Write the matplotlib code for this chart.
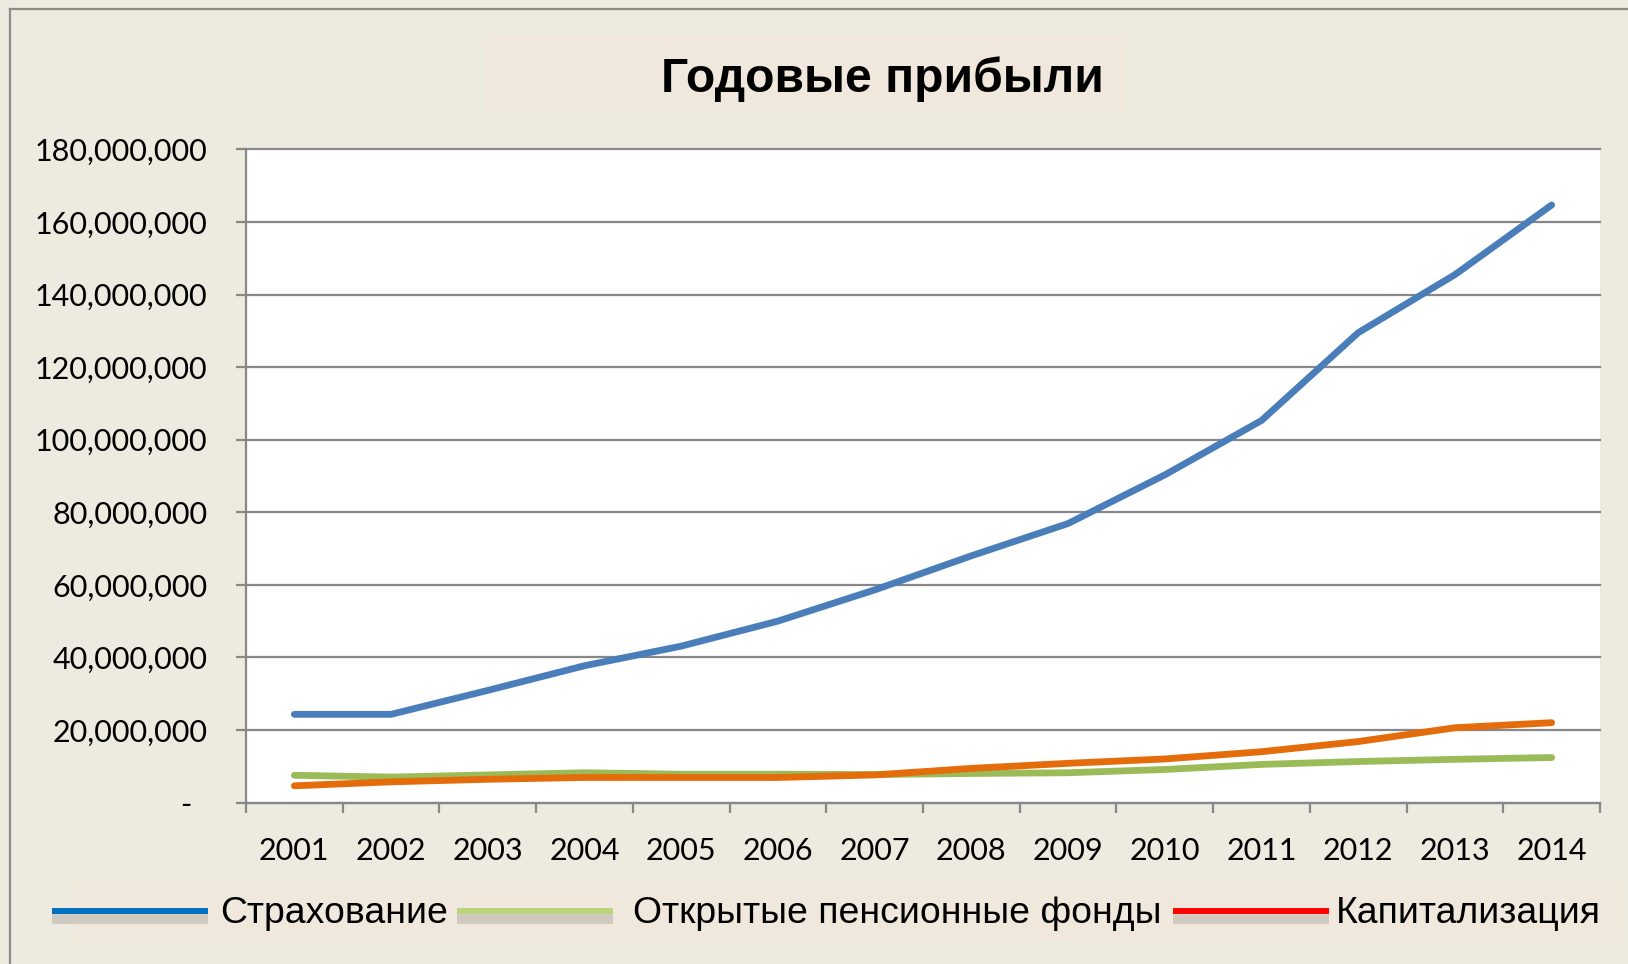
import matplotlib
matplotlib.use("Agg")
import matplotlib.pyplot as plt
from matplotlib.lines import Line2D
from matplotlib.patches import Rectangle
from matplotlib.ticker import FuncFormatter, FixedLocator

years = ["2001", "2002", "2003", "2004", "2005", "2006", "2007",
         "2008", "2009", "2010", "2011", "2012", "2013", "2014"]
insurance = [24.3, 24.3, 30.9, 37.7, 43.1, 50.0, 58.6, 68.0, 76.9, 90.3,
             105.3, 129.5, 145.5, 164.7]
pension = [7.5, 7.0, 7.6, 8.2, 7.8, 7.8, 7.7, 8.0, 8.2, 9.1,
           10.5, 11.3, 11.9, 12.4]
capital = [4.6, 5.7, 6.4, 6.9, 6.9, 6.9, 7.6, 9.4, 10.8, 12.0,
           14.0, 16.8, 20.6, 22.0]
series_names = ["Страхование", "Открытые пенсионные фонды", "Капитализация"]
title = "Годовые прибыли"
scale = 1_000_000

W, H = 1628, 964
BG = "#EDEAE0"
BOX = "#F0E8DC"
GRID = "#878787"

fig = plt.figure(figsize=(W / 100, H / 100), dpi=100)
fig.patch.set_facecolor(BG)

def px_x(x):
    return x / W

def px_y(y):
    return 1 - y / H

# Figure border (top and left)
fig.add_artist(Line2D([px_x(9.5), 1.0], [px_y(8.5), px_y(8.5)], color="#8C8C8C", lw=1.6))
fig.add_artist(Line2D([px_x(9.5), px_x(9.5)], [px_y(8.5), 0.0], color="#8C8C8C", lw=1.6))

# Title box and title
fig.add_artist(Rectangle((px_x(485), px_y(113)), (1125 - 485) / W, (113 - 36) / H,
                         transform=fig.transFigure, facecolor=BOX, edgecolor="none", zorder=0))
fig.text(px_x(882), px_y(92), title, ha="center", va="baseline",
         fontsize=34.6, fontweight="bold", family="Liberation Sans")

# Axes
left, right, top, bottom = 246, 1600, 149.5, 802.5
ax = fig.add_axes([left / W, 1 - bottom / H, (right - left) / W, (bottom - top) / H])
ax.set_facecolor("white")

x = list(range(len(years)))
colors = ["#4A7EBB", "#9BBB59", "#E46C0A"]
for vals, c in zip([insurance, pension, capital], colors):
    ax.plot(x, [v * scale for v in vals], color=c, lw=4.9,
            solid_capstyle="round", solid_joinstyle="round", zorder=3)

ax.set_xlim(-0.5, len(years) - 0.5)
ax.set_ylim(0, 180 * scale)
ax.set_yticks([i * 20 * scale for i in range(10)])

def yfmt(v, pos):
    if v == 0:
        return "-  "
    return f"{int(v):,}"

ax.yaxis.set_major_formatter(FuncFormatter(yfmt))
ax.yaxis.grid(True, color=GRID, lw=1.6)
for gl in ax.get_ygridlines():
    gl.set_clip_on(False)
ax.set_axisbelow(True)

ax.set_xticks(x)
ax.set_xticklabels(years)
ax.xaxis.set_minor_locator(FixedLocator([i - 0.5 for i in range(len(years) + 1)]))

for s in ["top", "right"]:
    ax.spines[s].set_visible(False)
for s in ["left", "bottom"]:
    ax.spines[s].set_color(GRID)
    ax.spines[s].set_linewidth(1.6)

ax.tick_params(axis="y", which="major", direction="out", length=7.2, width=1.6,
               color=GRID, pad=20.5, labelsize=22, labelcolor="black")
ax.tick_params(axis="x", which="major", length=0, pad=24.5, labelsize=22, labelcolor="black")
ax.tick_params(axis="x", which="minor", direction="out", length=7.2, width=1.6, color=GRID)
for lab in ax.get_xticklabels() + ax.get_yticklabels():
    lab.set_fontfamily("Lato")

# Legend
fig.add_artist(Rectangle((px_x(73), px_y(942)), (1623 - 73) / W, (942 - 878) / H,
                         transform=fig.transFigure, facecolor=BOX, edgecolor="none", zorder=0))
leg_colors = ["#0070C0", "#B9D57A", "#FF0000"]
handle_x = [(52, 208), (457, 613), (1173, 1329)]
text_x = [220, 633, 1336]
for name, c, (x0, x1), tx in zip(series_names, leg_colors, handle_x, text_x):
    fig.add_artist(Line2D([px_x(x0), px_x(x1)], [px_y(919), px_y(919)],
                          color="#A8A49C", lw=7, alpha=0.45, solid_capstyle="butt"))
    fig.add_artist(Line2D([px_x(x0), px_x(x1)], [px_y(910.5), px_y(910.5)],
                          color=c, lw=4.3, solid_capstyle="butt"))
    fig.text(px_x(tx), px_y(923), name, ha="left", va="baseline",
             fontsize=26.9, family="Liberation Sans", color="black")

fig.savefig("out.png", dpi=100, facecolor=BG)
